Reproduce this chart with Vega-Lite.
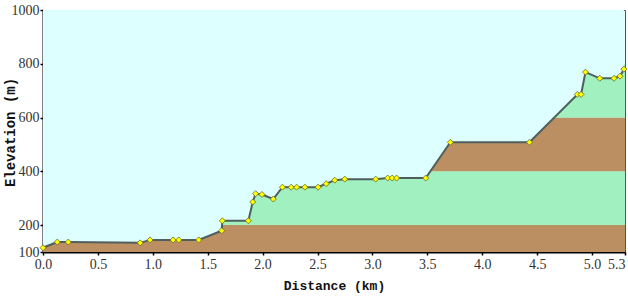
{
  "$schema": "https://vega.github.io/schema/vega-lite/v6.json",
  "width": 582,
  "height": 242,
  "autosize": "none",
  "padding": {"left": 43, "top": 10, "right": 3, "bottom": 46},
  "background": "white",
  "config": {
    "view": {"fill": "#DDFFFF", "stroke": "#555555", "strokeWidth": 1},
    "axis": {
      "labelFont": "Liberation Sans Narrow",
      "labelFontSize": 14,
      "labelColor": "#333333",
      "titleFont": "Liberation Mono",
      "titleFontWeight": "bold",
      "titleColor": "#111111",
      "domainColor": "black",
      "domainWidth": 2,
      "tickColor": "black",
      "tickWidth": 1.5,
      "tickSize": 3,
      "grid": false
    }
  },
  "datasets": {
    "bands": [
      {"lo": 100, "hi": 200, "band": "brown"},
      {"lo": 200, "hi": 400, "band": "green"},
      {"lo": 400, "hi": 600, "band": "brown"},
      {"lo": 600, "hi": 800, "band": "green"}
    ],
    "profile": [
      {"d": 0.0, "e": 116},
      {"d": 0.13, "e": 137},
      {"d": 0.23, "e": 137},
      {"d": 0.885, "e": 134},
      {"d": 0.975, "e": 145},
      {"d": 1.185, "e": 145},
      {"d": 1.236, "e": 145},
      {"d": 1.418, "e": 145},
      {"d": 1.627, "e": 179},
      {"d": 1.633, "e": 216},
      {"d": 1.87, "e": 216},
      {"d": 1.91, "e": 286},
      {"d": 1.936, "e": 317},
      {"d": 1.994, "e": 314},
      {"d": 2.097, "e": 297},
      {"d": 2.18, "e": 341},
      {"d": 2.26, "e": 341},
      {"d": 2.31, "e": 341},
      {"d": 2.385, "e": 341},
      {"d": 2.505, "e": 341},
      {"d": 2.579, "e": 354},
      {"d": 2.657, "e": 367},
      {"d": 2.748, "e": 371},
      {"d": 3.03, "e": 371},
      {"d": 3.139, "e": 375},
      {"d": 3.18, "e": 375},
      {"d": 3.22, "e": 375},
      {"d": 3.485, "e": 375},
      {"d": 3.71, "e": 508},
      {"d": 4.43, "e": 508},
      {"d": 4.866, "e": 686},
      {"d": 4.9, "e": 686},
      {"d": 4.94, "e": 769},
      {"d": 5.07, "e": 746},
      {"d": 5.2, "e": 746},
      {"d": 5.255, "e": 754},
      {"d": 5.29, "e": 780}
    ]
  },
  "layer": [
    {
      "data": {"name": "bands"},
      "mark": {"type": "rect", "clip": true},
      "encoding": {
        "y": {"field": "lo", "type": "quantitative", "scale": {"domain": [100, 1000], "nice": false, "zero": false},
          "axis": {"values": [100, 200, 400, 600, 800, 1000], "format": "d", "title": "Elevation (m)", "titleFontSize": 14, "titleX": -33, "titleY": 122, "titleBaseline": "middle", "titleAlign": "center", "labelPadding": 1}},
        "y2": {"field": "hi"},
        "color": {"field": "band", "type": "nominal", "scale": {"domain": ["brown", "green"], "range": ["#BC8F62", "#A0F0C0"]}, "legend": null}
      }
    },
    {
      "data": {"name": "profile"},
      "mark": {"type": "area", "color": "#DDFFFF", "opacity": 1, "clip": true},
      "encoding": {
        "x": {"field": "d", "type": "quantitative", "scale": {"domain": [0, 5.3], "nice": false, "zero": false},
          "axis": {"values": [0, 0.5, 1.0, 1.5, 2.0, 2.5, 3.0, 3.5, 4.0, 4.5, 5.0, 5.3], "format": ".1f", "labelFlush": false,
            "labelAlign": {"condition": {"test": "datum.value == 5.3", "value": "right"}, "value": "center"},
            "title": "Distance  (km)", "titleFontSize": 13, "titlePadding": 8, "labelPadding": 2}},
        "y": {"field": "e", "type": "quantitative"},
        "y2": {"datum": 1000}
      }
    },
    {
      "data": {"name": "profile"},
      "mark": {"type": "line", "color": "#4F5F5F", "strokeWidth": 2, "clip": true},
      "encoding": {
        "x": {"field": "d", "type": "quantitative"},
        "y": {"field": "e", "type": "quantitative"}
      }
    },
    {
      "data": {"name": "profile"},
      "mark": {"type": "point", "shape": "diamond", "filled": true, "fill": "#FFFF00", "stroke": "#6A6A20", "strokeWidth": 0.8, "size": 36, "opacity": 1},
      "encoding": {
        "x": {"field": "d", "type": "quantitative"},
        "y": {"field": "e", "type": "quantitative"}
      }
    }
  ]
}
